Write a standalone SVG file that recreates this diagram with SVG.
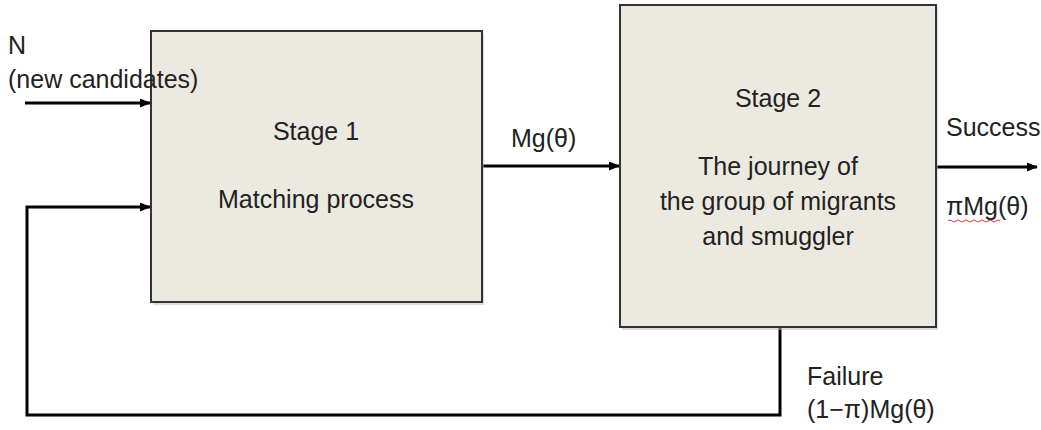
<svg xmlns="http://www.w3.org/2000/svg" width="1041" height="430" viewBox="0 0 1041 430">
<style>
.box{fill:#ECEAE0;stroke:#333;stroke-width:2}
.shadow{fill:#BBB;opacity:0.5}
.t{font-family:"Liberation Sans",Arial,sans-serif;font-size:25px;fill:#222}
.c{text-anchor:middle}
.ln{fill:none;stroke:#000;stroke-width:3}
</style>
<defs>
<marker id="ah" markerWidth="11" markerHeight="9" refX="10" refY="4.5" orient="auto" markerUnits="userSpaceOnUse">
<path d="M0,0 L11,4.5 L0,9 Z" fill="#000"/>
</marker>
</defs>
<g id="connectors">
<line class="ln" x1="25" y1="103" x2="150" y2="103" marker-end="url(#ah)"/>
<path class="ln" d="M780,327 V415 H27 V207 H150" marker-end="url(#ah)"/>
<line class="ln" x1="482" y1="166" x2="619" y2="166" marker-end="url(#ah)"/>
<line class="ln" x1="936" y1="167" x2="1037" y2="167" marker-end="url(#ah)"/>
</g>
<g id="stage1">
<rect class="shadow" x="153" y="33" width="331" height="272"/>
<rect class="box" x="151" y="31" width="331" height="271"/>
<text class="t c" x="316" y="140">Stage 1</text>
<text class="t c" x="316" y="208">Matching process</text>
</g>
<g id="stage2">
<rect class="shadow" x="622" y="7" width="316" height="323"/>
<rect class="box" x="620" y="5" width="316" height="322"/>
<text class="t c" x="778" y="107">Stage 2</text>
<text class="t c" x="778" y="175">The journey of</text>
<text class="t c" x="778" y="210">the group of migrants</text>
<text class="t c" x="778" y="245">and smuggler</text>
</g>
<g id="labels">
<text class="t" x="8" y="54">N</text>
<text class="t" x="8" y="88">(new candidates)</text>
<text class="t" x="511" y="147">Mg(θ)</text>
<text class="t" x="946" y="136">Success</text>
<text class="t" x="946" y="215">πMg(θ)</text>
<path d="M948,221 q2,-2 4,0 t4,0 t4,0 t4,0 t4,0 t4,0 t4,0 t4,0 t4,0 t4,0 t4,0 t4,0 t4,0" fill="none" stroke="#E03030" stroke-width="1"/>
<text class="t" x="807" y="385">Failure</text>
<text class="t" x="807" y="418">(1−π)Mg(θ)</text>
</g>
</svg>
